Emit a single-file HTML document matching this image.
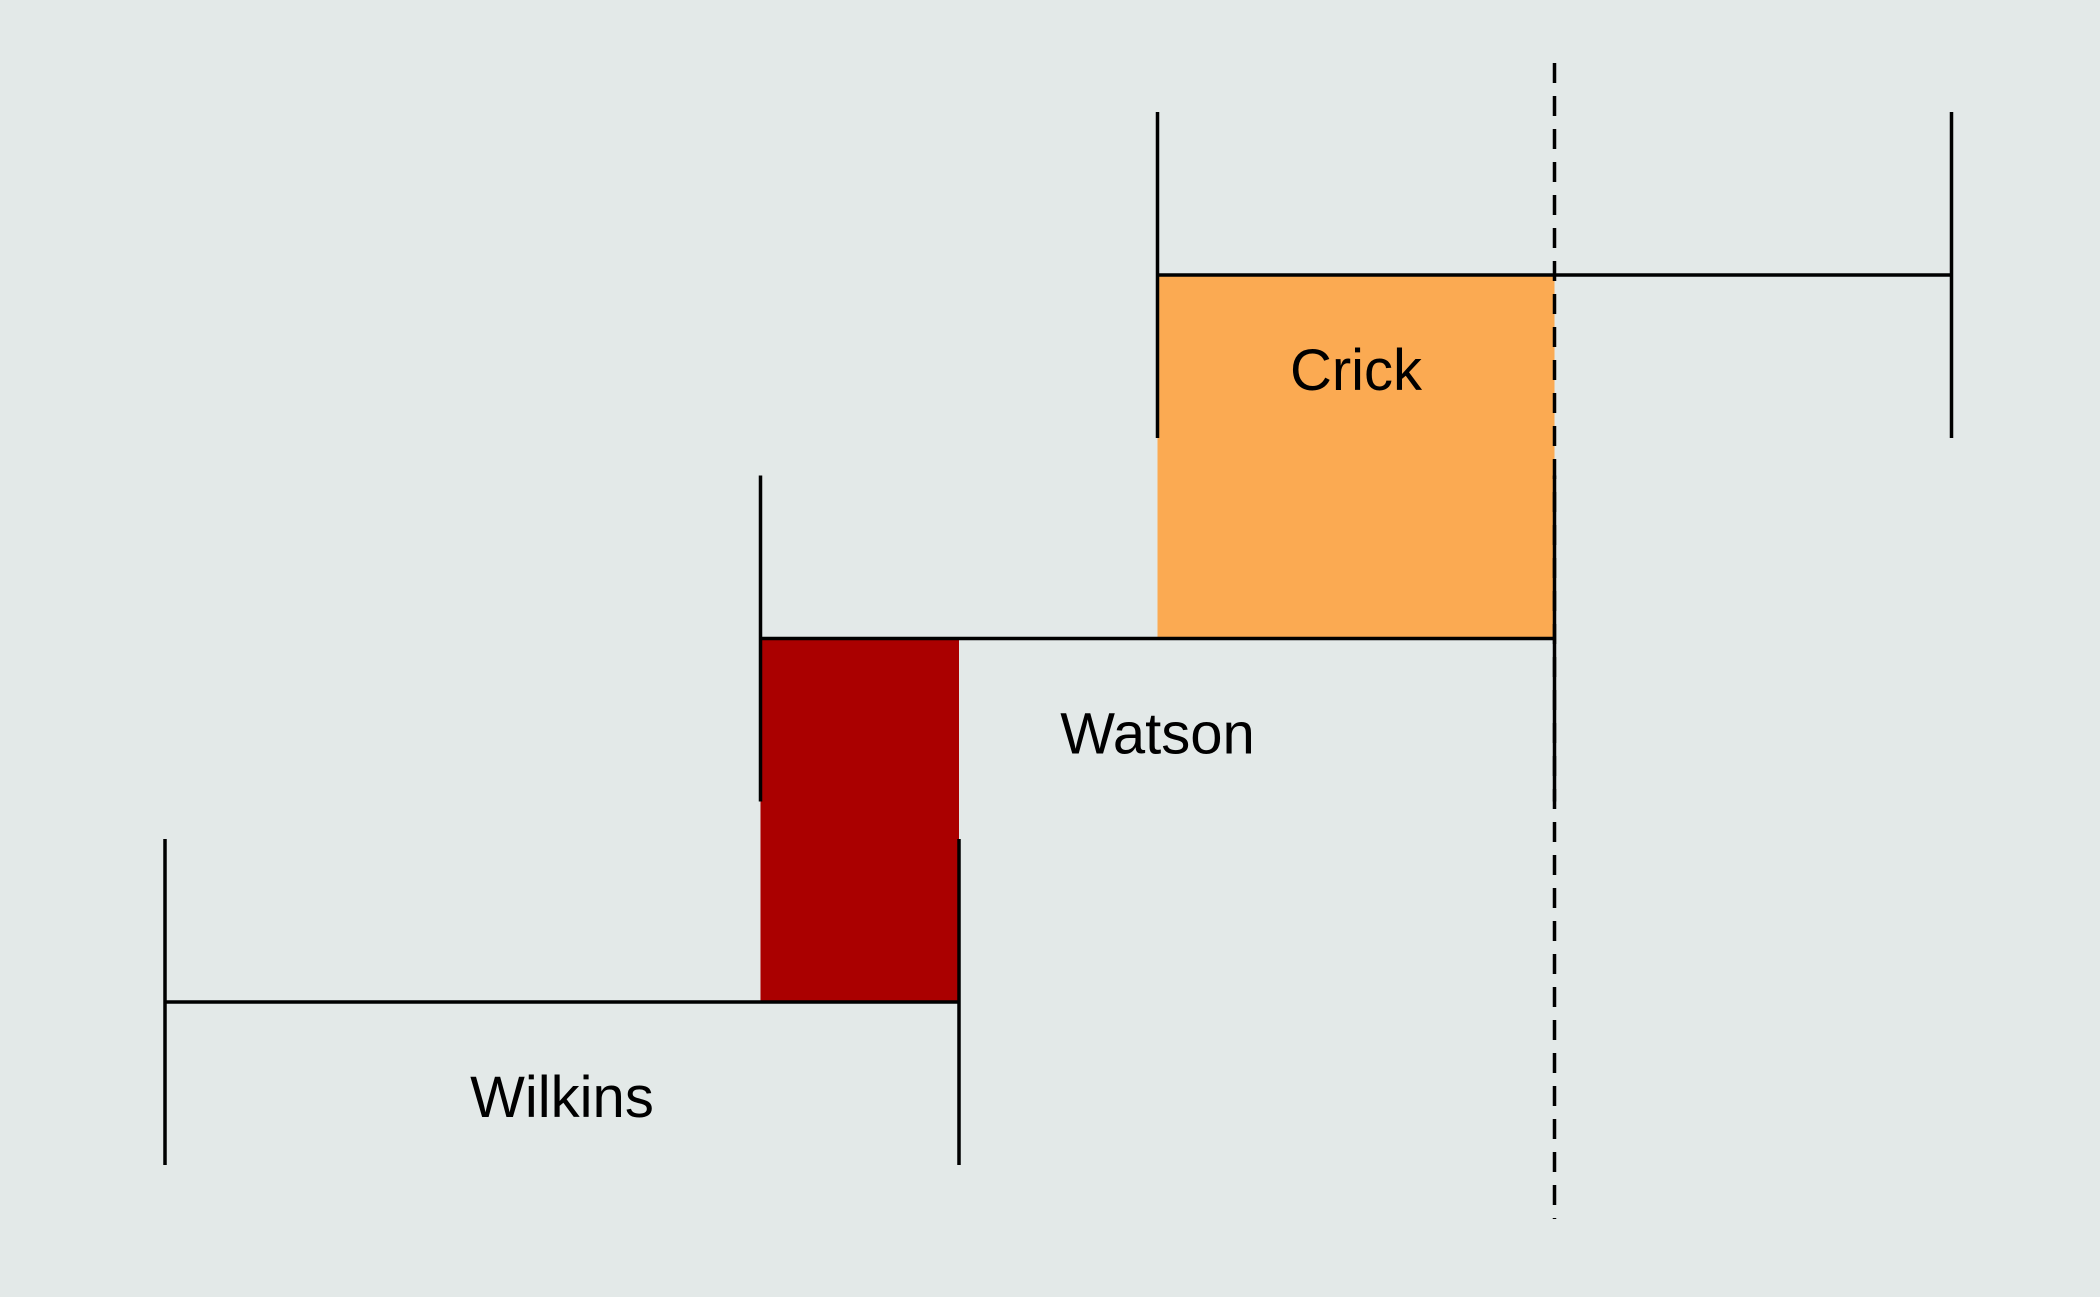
<!DOCTYPE html>
<html><head><meta charset="utf-8"><style>
html,body{margin:0;padding:0;background:#e3e9e8;}
svg{display:block;}
text{font-family:"Liberation Sans",Arial,sans-serif;}
</style></head><body>
<svg id="chart" width="2100" height="1297" viewBox="0 0 2100 1297">
<rect width="2100" height="1297" fill="#e3e9e8"/>
<g id="fills"></g><g id="marks"></g>
</svg>
<script>
const names = ["Wilkins","Watson","Crick"];
const starts = [0, 0.75, 1.25];
const ends = [1, 1.75, 2.25];
const labelAt = [0.5, 1.25, 1.5];
const refLine = 1.75;
const overlapColors = ["#aa0000","#fbaa52"];

const X0 = 165, XU = 794;
const xs = v => X0 + v * XU;
const yRow = i => 1002 - i * 363.5;
const NS = "http://www.w3.org/2000/svg";
const fills = document.getElementById('fills');
const marks = document.getElementById('marks');
function mk(tag, attrs, parent){
  const e = document.createElementNS(NS, tag);
  for (const k in attrs) e.setAttribute(k, attrs[k]);
  parent.appendChild(e); return e;
}
for (let i = 0; i < names.length - 1; i++) {
  const a = Math.max(starts[i], starts[i+1]), b = Math.min(ends[i], ends[i+1]);
  if (b > a) {
    const r = mk('rect', {x: xs(a), y: yRow(i+1), width: xs(b)-xs(a), height: yRow(i)-yRow(i+1), fill: overlapColors[i]}, fills);
    
    
  }
}
names.forEach((n, i) => {
  const y = yRow(i), x1 = xs(starts[i]), x2 = xs(ends[i]);
  const g = mk('g', {stroke: '#000', 'stroke-width': 3.5}, marks);
  
  
  mk('line', {x1: x1, x2: x2, y1: y, y2: y}, g);
  mk('line', {x1: x1, x2: x1, y1: y - 163, y2: y + 163}, g);
  mk('line', {x1: x2, x2: x2, y1: y - 163, y2: y + 163}, g);
  const t = mk('text', {x: xs(labelAt[i]), y: y + 115, 'text-anchor': 'middle', 'font-size': 58, fill: '#000'}, marks);
  t.textContent = n;
  
  
});
const d = mk('line', {x1: xs(refLine), x2: xs(refLine), y1: 63, y2: 1219, stroke: '#000', 'stroke-width': 3.5, 'stroke-dasharray': '20 13'}, marks);


</script>
</body></html>
